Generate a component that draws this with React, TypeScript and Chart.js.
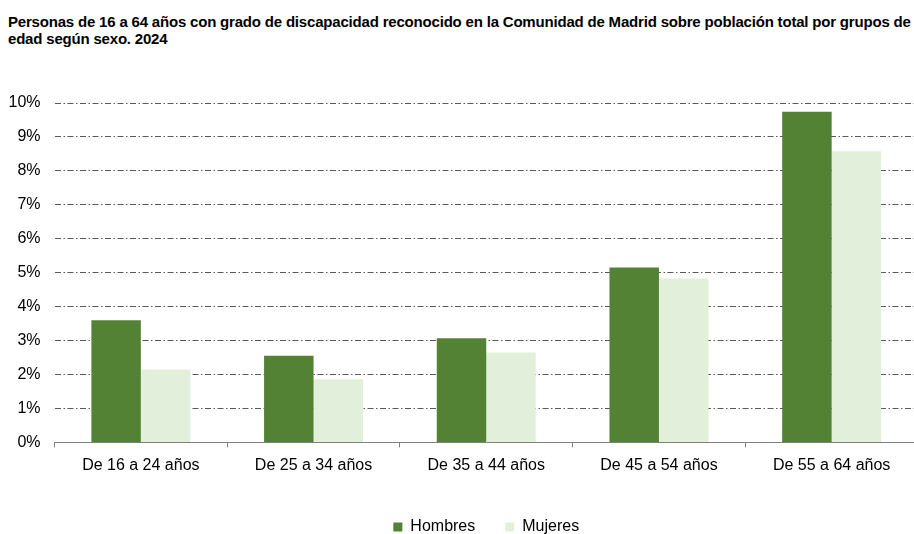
import React, { useEffect, useRef } from "react";
import { Chart, registerables } from "chart.js";

Chart.register(...registerables);

const titleLines = [
  "Personas de 16 a 64 años con grado de discapacidad reconocido en la Comunidad de Madrid sobre población total por grupos de",
  "edad según sexo. 2024",
];
const categories = [
  "De 16 a 24 años",
  "De 25 a 34 años",
  "De 35 a 44 años",
  "De 45 a 54 años",
  "De 55 a 64 años",
];
const hombres = [3.6, 2.55, 3.07, 5.15, 9.74];
const mujeres = [2.15, 1.86, 2.65, 4.83, 8.58];
const seriesNames = ["Hombres", "Mujeres"];
const colors = ["#548235", "#E2EFDA"];

const FONT = "'Liberation Sans', Arial, sans-serif";

export default function App() {
  const ref = useRef<HTMLCanvasElement>(null);

  useEffect(() => {
    document.body.style.margin = "0";
    document.body.style.overflow = "hidden";
    const canvas = ref.current;
    if (!canvas) return;
    const chart = new Chart(canvas, {
      type: "bar",
      data: {
        labels: categories,
        datasets: [
          {
            label: seriesNames[0],
            data: hombres,
            backgroundColor: colors[0],
            borderWidth: 0,
            categoryPercentage: 0.573,
            barPercentage: 1,
          },
          {
            label: seriesNames[1],
            data: mujeres,
            backgroundColor: colors[1],
            borderWidth: 0,
            categoryPercentage: 0.573,
            barPercentage: 1,
          },
        ],
      },
      options: {
        responsive: false,
        animation: false,
        devicePixelRatio: 1,
        layout: { padding: { top: 103, right: 4, left: 0, bottom: 0 } },
        plugins: {
          title: { display: false },
          tooltip: { enabled: false },
          legend: {
            position: "bottom",
            fullSize: false,
            labels: {
              boxWidth: 9,
              boxHeight: 9,
              padding: 30,
              color: "#000",
              font: { family: FONT, size: 16 },
            },
          },
        },
        scales: {
          x: {
            afterFit: (scale: any) => {
              scale.height = 46.6;
            },
            grid: {
              offset: true,
              drawOnChartArea: false,
              drawTicks: true,
              tickLength: 5,
              tickColor: "#808080",
              color: "#808080",
            },
            border: { display: true, color: "#808080", width: 1 },
            ticks: {
              color: "#000",
              padding: 9,
              font: { family: FONT, size: 16 },
              maxRotation: 0,
            },
          },
          y: {
            min: 0,
            max: 10,
            afterFit: (scale: any) => {
              scale.width = 54.5;
            },
            grid: {
              color: "#595959",
              lineWidth: 1,
              drawTicks: false,
            },
            border: { display: false, dash: [6, 2.5, 1.5, 2.5] },
            ticks: {
              stepSize: 1,
              color: "#000",
              padding: 14,
              font: { family: FONT, size: 16 },
              callback: (v: any) => `${v}%`,
            },
          },
        },
      },
    });
    return () => chart.destroy();
  }, []);

  return (
    <div
      style={{
        position: "fixed",
        left: 0,
        top: 0,
        width: 914,
        height: 534,
        overflow: "hidden",
        background: "#fff",
      }}
    >
      <div
        style={{
          position: "absolute",
          left: 8,
          top: 13,
          fontFamily: FONT,
          fontWeight: "bold",
          fontSize: 15,
          lineHeight: "17px",
          letterSpacing: "-0.19px",
          color: "#000",
          whiteSpace: "nowrap",
        }}
      >
        {titleLines.map((l, i) => (
          <div key={i}>{l}</div>
        ))}
      </div>
      <canvas
        ref={ref}
        width={922}
        height={545}
        style={{ position: "absolute", left: 0, top: 0, width: 922, height: 545 }}
      />
    </div>
  );
}
